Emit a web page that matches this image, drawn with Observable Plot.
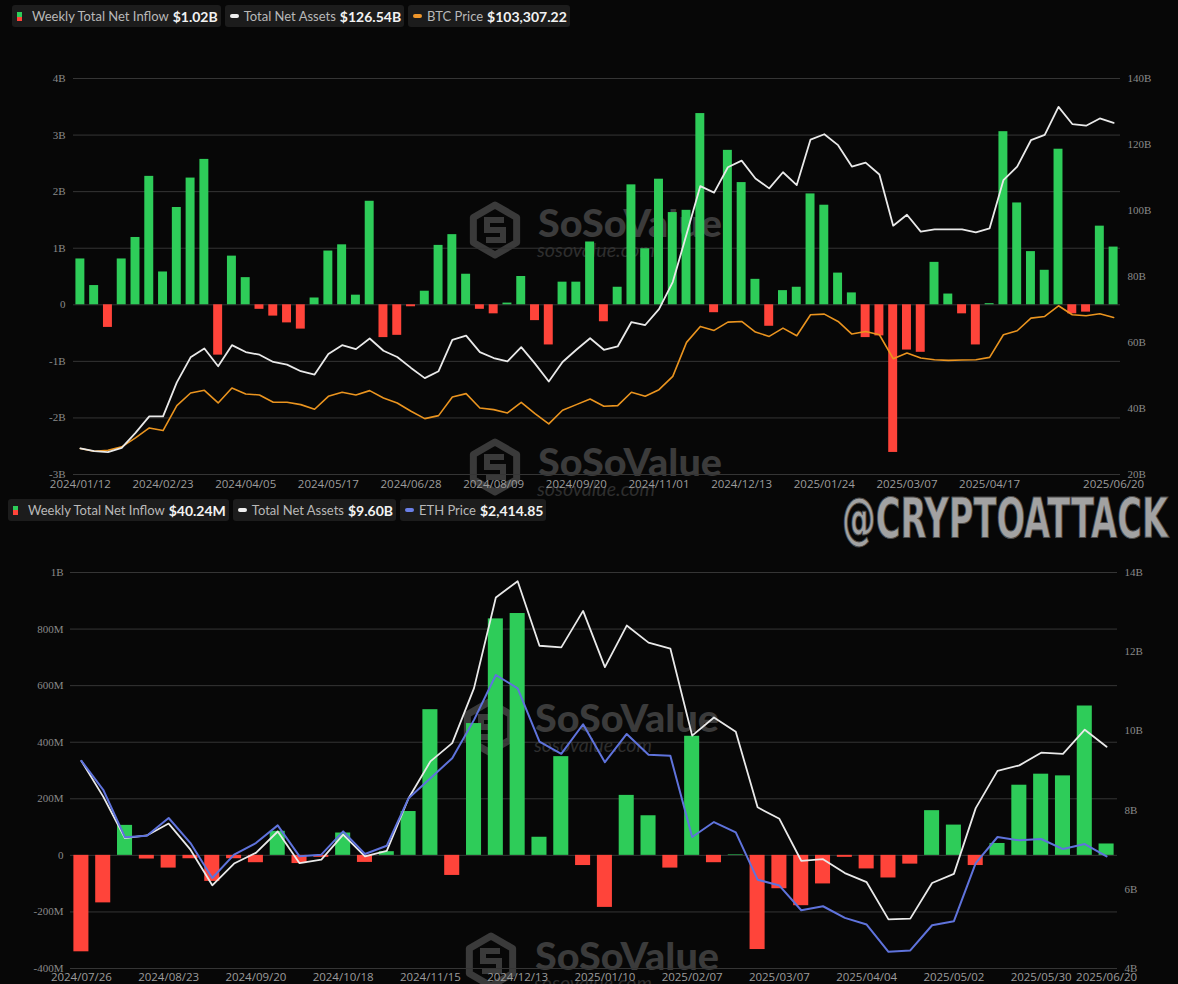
<!DOCTYPE html>
<html><head><meta charset="utf-8">
<script src="https://cdn.jsdelivr.net/npm/d3@7"></script>
<script src="https://cdn.jsdelivr.net/npm/@observablehq/plot@0.6"></script>
<style>
html,body{margin:0;padding:0;background:#070707;width:1178px;height:984px;overflow:hidden}
#root{position:relative;width:1178px;height:984px}
.chart{position:absolute;left:0}
.chart svg{display:block}
.legend{position:absolute;display:flex;gap:4px;font-family:Lato,sans-serif;z-index:3}
.item{display:flex;align-items:center;background:#1c1c1c;border-radius:3px;height:22px;padding:0 3px 0 5px;color:#b8b8b8;font-size:13px;white-space:nowrap}
.item b{color:#f2f2f2;font-size:14px;margin-left:4px;font-weight:700}
.sw{display:inline-block;margin-right:5px}
.dash{width:9px;height:4px;border-radius:2px}
.barsw{width:5px;height:9px;margin-right:10px;background:linear-gradient(#2ecc59 50%,#ff443a 50%)}
</style></head>
<body><div id="root">
<svg id="wm" width="1178" height="984" style="position:absolute;left:0;top:0;z-index:0"></svg>
<div id="c1" class="chart" style="top:0;z-index:1"></div>
<div id="c2" class="chart" style="top:495px;z-index:1"></div>
<div class="legend" style="left:12px;top:5px">
  <div class="item"><span class="sw barsw"></span>Weekly Total Net Inflow<b>$1.02B</b></div>
  <div class="item"><span class="sw dash" style="background:#eeeeee"></span>Total Net Assets<b>$126.54B</b></div>
  <div class="item"><span class="sw dash" style="background:#f0962a"></span>BTC Price<b>$103,307.22</b></div>
</div>
<div class="legend" style="left:8px;top:499px">
  <div class="item"><span class="sw barsw"></span>Weekly Total Net Inflow<b>$40.24M</b></div>
  <div class="item"><span class="sw dash" style="background:#eeeeee"></span>Total Net Assets<b>$9.60B</b></div>
  <div class="item"><span class="sw dash" style="background:#6a7fe6"></span>ETH Price<b>$2,414.85</b></div>
</div>
<svg id="handle" width="1178" height="984" style="position:absolute;left:0;top:0;z-index:4;pointer-events:none">
  <text x="842" y="537" font-family="DejaVu Sans Condensed, DejaVu Sans" font-weight="bold" font-size="56" textLength="326" lengthAdjust="spacingAndGlyphs" fill="#a2a2a2" stroke="#4a4a4a" stroke-width="1">@CRYPTOATTACK</text>
</svg>
</div>
<script>
// ---------- BTC (top) ----------
const topDates = ["2024/01/12","2024/01/19","2024/01/26","2024/02/02","2024/02/09","2024/02/16","2024/02/23","2024/03/01","2024/03/08","2024/03/15",
"2024/03/22","2024/03/28","2024/04/05","2024/04/12","2024/04/19","2024/04/26","2024/05/03","2024/05/10","2024/05/17","2024/05/24",
"2024/05/31","2024/06/07","2024/06/14","2024/06/21","2024/06/28","2024/07/05","2024/07/12","2024/07/19","2024/07/26","2024/08/02",
"2024/08/09","2024/08/16","2024/08/23","2024/08/30","2024/09/06","2024/09/13","2024/09/20","2024/09/27","2024/10/04","2024/10/11",
"2024/10/18","2024/10/25","2024/11/01","2024/11/08","2024/11/15","2024/11/22","2024/11/29","2024/12/06","2024/12/13","2024/12/20",
"2024/12/27","2025/01/03","2025/01/10","2025/01/17","2025/01/24","2025/01/31","2025/02/07","2025/02/14","2025/02/21","2025/02/28",
"2025/03/07","2025/03/14","2025/03/21","2025/03/28","2025/04/04","2025/04/11","2025/04/17","2025/04/25","2025/05/02","2025/05/09",
"2025/05/16","2025/05/23","2025/05/30","2025/06/06","2025/06/13","2025/06/20"];
const btcFlow = [0.81,0.34,-0.40,0.81,1.19,2.27,0.58,1.72,2.24,2.57,
-0.89,0.86,0.48,-0.08,-0.20,-0.32,-0.43,0.12,0.95,1.06,
0.17,1.83,-0.58,-0.54,-0.035,0.24,1.05,1.24,0.54,-0.08,
-0.16,0.03,0.50,-0.28,-0.71,0.40,0.40,1.11,-0.30,0.31,
2.12,0.99,2.22,1.63,1.67,3.38,-0.14,2.73,2.16,0.45,
-0.38,0.25,0.31,1.96,1.76,0.56,0.21,-0.58,-0.55,-2.61,
-0.80,-0.84,0.75,0.19,-0.16,-0.71,0.02,3.06,1.80,0.94,
0.61,2.75,-0.16,-0.13,1.39,1.02];
const btcAssets = [27.9,27.1,26.8,28.1,32.6,37.6,37.6,47.9,55.5,58.2,
52.8,59.2,57.1,56.3,54.1,53.3,51.3,50.3,56.5,59.2,
58.0,61.2,57.5,55.6,52.3,49.2,51.3,60.8,62.1,57.1,
55.3,54.3,58.6,53.6,48.2,54.1,57.8,61.3,57.8,58.8,
66.2,65.3,70.1,78.3,92.8,107.4,105.4,113.1,115.1,109.7,
106.7,111.6,107.7,121.5,123.1,119.8,113.3,114.5,110.9,95.4,
98.7,93.6,94.3,94.3,94.3,93.4,94.6,109.2,113.3,121.3,
122.9,131.4,126.2,125.7,127.9,126.54];
const btcPrice = [42789,41560,42020,43560,47700,52310,51080,62600,68440,69670,
63830,70740,67980,67520,64140,64140,63060,60910,66900,68750,
67520,69520,66140,63830,59990,56610,57990,66600,68130,61530,
60760,59220,64140,58920,54150,60450,63060,65680,62300,62600,
68750,66900,69970,76120,91790,99160,97320,101160,101460,96550,
94550,98390,94860,104540,104840,101460,95630,96850,95320,84260,
86870,84570,83800,83490,83650,83800,84880,95320,97160,103000,
103770,108680,104540,104080,105000,103307.22];
const topTickIdx = [0,6,12,18,24,30,36,42,48,54,60,66,75];
const topFlowTicks = [-3,-2,-1,0,1,2,3,4];
const topAssetTicks = [20,40,60,80,100,120,140];
const topFlowDomain = [-3,4];
const topAssetDomain = [20,140];
const btcPriceDomain = [30808,213592];

// ---------- ETH (bottom) ----------
const botDates = ["2024/07/26","2024/08/02","2024/08/09","2024/08/16","2024/08/23","2024/08/30","2024/09/06","2024/09/13","2024/09/20","2024/09/27",
"2024/10/04","2024/10/11","2024/10/18","2024/10/25","2024/11/01","2024/11/08","2024/11/15","2024/11/22","2024/11/29","2024/12/06",
"2024/12/13","2024/12/20","2024/12/27","2025/01/03","2025/01/10","2025/01/17","2025/01/24","2025/01/31","2025/02/07","2025/02/14",
"2025/02/21","2025/02/28","2025/03/07","2025/03/14","2025/03/21","2025/03/28","2025/04/04","2025/04/11","2025/04/17","2025/04/25",
"2025/05/02","2025/05/09","2025/05/16","2025/05/23","2025/05/30","2025/06/06","2025/06/13","2025/06/20"];
const ethFlow = [-341,-168,106,-13,-45,-12,-92,-12,-26,85,
-29,-7,79,-25,13,155,515,-71,466,836,
855,64,349,-36,-184,212,140,-45,421,-26,
2,-333,-118,-178,-101,-7,-48,-80,-31,158,
107,-36,42,248,287,281,528,40.24];
const ethAssets = [9.24,8.34,7.29,7.36,7.66,7.00,6.10,6.65,6.92,7.46,
6.66,6.75,7.38,6.83,6.97,8.30,9.23,9.69,11.08,13.37,
13.78,12.15,12.11,13.03,11.61,12.66,12.23,12.08,9.88,10.34,
9.98,8.07,7.78,6.72,6.76,6.41,6.18,5.24,5.26,6.16,
6.39,8.05,8.99,9.13,9.45,9.42,10.03,9.60];
const ethPrice = [3270,3011,2585,2600,2758,2534,2221,2430,2534,2692,
2415,2430,2638,2436,2510,2936,3115,3294,3637,4039,
3920,3443,3333,3598,3258,3511,3324,3315,2588,2722,
2629,2206,2153,1932,1968,1864,1804,1560,1572,1798,
1834,2355,2588,2558,2570,2480,2525,2414.85];
const botTickIdx = [0,4,8,12,16,20,24,28,32,36,40,44,47];
const botFlowTicks = [-400,-200,0,200,400,600,800,1000];
const botAssetTicks = [4,6,8,10,12,14];
const botFlowDomain = [-400,1000];
const botAssetDomain = [4,14];
const ethPriceDomain = [1410.5,4956.8];

const GREEN = "#2ecc59", RED = "#ff443a";

function dualChart(cfg) {
  const rows = cfg.dates.map((d, i) => ({i, date: d, flow: cfg.flow[i], assets: cfg.assets[i], price: cfg.price[i]}));
  const [y0, y1] = cfg.flowDomain;
  const lin = (dom) => (v) => y0 + (v - dom[0]) / (dom[1] - dom[0]) * (y1 - y0);
  const aToY = lin(cfg.assetDomain);
  const pToY = lin(cfg.priceDomain);
  const yToA = (y) => cfg.assetDomain[0] + (y - y0) / (y1 - y0) * (cfg.assetDomain[1] - cfg.assetDomain[0]);
  const hw = cfg.barHalf;
  const n = rows.length;
  const serif = "Liberation Serif, DejaVu Serif, serif";
  const lines = [
    Plot.line(rows, {x: "i", y: d => pToY(d.price), stroke: cfg.priceColor, strokeWidth: cfg.priceWidth}),
    Plot.line(rows, {x: "i", y: d => aToY(d.assets), stroke: "#e9e9e9", strokeWidth: 1.8})
  ];
  if (cfg.priceOnTop) lines.reverse();
  return Plot.plot({
    width: 1178, height: cfg.height,
    marginTop: cfg.mt, marginBottom: cfg.mb, marginLeft: cfg.ml, marginRight: cfg.mr,
    style: {background: "transparent", fontFamily: "Open Sans, sans-serif", fontSize: "11.5px"},
    x: {domain: [-0.5, n - 0.5], axis: null, label: null},
    y: {domain: cfg.flowDomain, axis: null, label: null},
    marks: [
      Plot.gridY({ticks: cfg.flowTicks, stroke: "#353535", strokeOpacity: 1, strokeWidth: 1}),
      Plot.axisY({ticks: cfg.flowTicks, anchor: "left", tickSize: 0, tickPadding: cfg.padL, tickFormat: cfg.flowFormat,
                  fill: "#8a8a8a", fontFamily: serif, fontSize: 11, label: null}),
      Plot.axisY({ticks: cfg.assetTicks.map(aToY), anchor: "right", tickSize: 0, tickPadding: 7,
                  tickFormat: y => Math.round(yToA(y)) + "B", fill: "#8a8a8a", fontFamily: serif, fontSize: 11, label: null}),
      Plot.axisX({ticks: cfg.tickIdx, tickFormat: i => cfg.dates[i], tickSize: 0, tickPadding: cfg.padX,
                  fill: "#9c9c9c", fontSize: 11.5, label: null}),
      Plot.rectY(rows.filter(d => d.flow >= 0), {x1: d => d.i - hw, x2: d => d.i + hw, y1: 0, y2: "flow", fill: GREEN}),
      Plot.rectY(rows.filter(d => d.flow < 0), {x1: d => d.i - hw, x2: d => d.i + hw, y1: 0, y2: "flow", fill: RED}),
      ...lines
    ]
  });
}

document.getElementById("c1").appendChild(dualChart({
  dates: topDates, flow: btcFlow, assets: btcAssets, price: btcPrice,
  flowDomain: topFlowDomain, assetDomain: topAssetDomain, priceDomain: btcPriceDomain,
  flowTicks: topFlowTicks, assetTicks: topAssetTicks, tickIdx: topTickIdx,
  flowFormat: d => d === 0 ? "0" : d + "B",
  height: 495, mt: 78, mb: 21, ml: 73, mr: 58, padL: 8, padX: 5,
  barHalf: 0.325, priceColor: "#ea941f", priceWidth: 1.6, priceOnTop: false
}));

document.getElementById("c2").appendChild(dualChart({
  dates: botDates, flow: ethFlow, assets: ethAssets, price: ethPrice,
  flowDomain: botFlowDomain, assetDomain: botAssetDomain, priceDomain: ethPriceDomain,
  flowTicks: botFlowTicks, assetTicks: botAssetTicks, tickIdx: botTickIdx,
  flowFormat: d => d === 0 ? "0" : (Math.abs(d) >= 1000 ? d / 1000 + "B" : d + "M"),
  height: 489, mt: 77, mb: 16, ml: 70, mr: 61, padL: 7, padX: 4,
  barHalf: 0.345, priceColor: "#5f73dc", priceWidth: 2, priceOnTop: true
}));

// ---------- SoSoValue watermarks (background decoration) ----------
const wmSpots = [[495, 230, 538, 237], [495, 467, 538, 476], [489, 727, 535, 732], [491, 961, 535, 970]];
const wm = d3.select("#wm");
for (const [cx, cy, tx, ty] of wmSpots) {
  const r = 25;
  const hex = d3.range(6).map(k => {
    const a = (Math.PI / 3) * k - Math.PI / 2;
    return [cx + r * Math.cos(a), cy + r * Math.sin(a)];
  });
  wm.append("path").attr("d", "M" + hex.join("L") + "Z")
    .attr("fill", "none").attr("stroke", "#3a3a3a").attr("stroke-width", 7).attr("stroke-linejoin", "round");
  wm.append("path")
    .attr("d", `M${cx + 9},${cy - 10} L${cx - 8},${cy - 10} L${cx - 8},${cy} L${cx + 8},${cy} L${cx + 8},${cy + 10} L${cx - 9},${cy + 10}`)
    .attr("fill", "none").attr("stroke", "#3a3a3a").attr("stroke-width", 6);
  wm.append("text").attr("x", tx).attr("y", ty).text("SoSoValue")
    .attr("font-family", "Lato, sans-serif").attr("font-weight", 900).attr("font-size", 37)
    .attr("textLength", 184).attr("lengthAdjust", "spacingAndGlyphs").attr("fill", "#3b3b3b");
  wm.append("text").attr("x", tx - 1).attr("y", ty + 20).text("sosovalue.com")
    .attr("font-family", "Lato, sans-serif").attr("font-style", "italic").attr("font-size", 19)
    .attr("textLength", 118).attr("lengthAdjust", "spacingAndGlyphs").attr("fill", "#2e2e2e");
}
</script>
</body></html>
